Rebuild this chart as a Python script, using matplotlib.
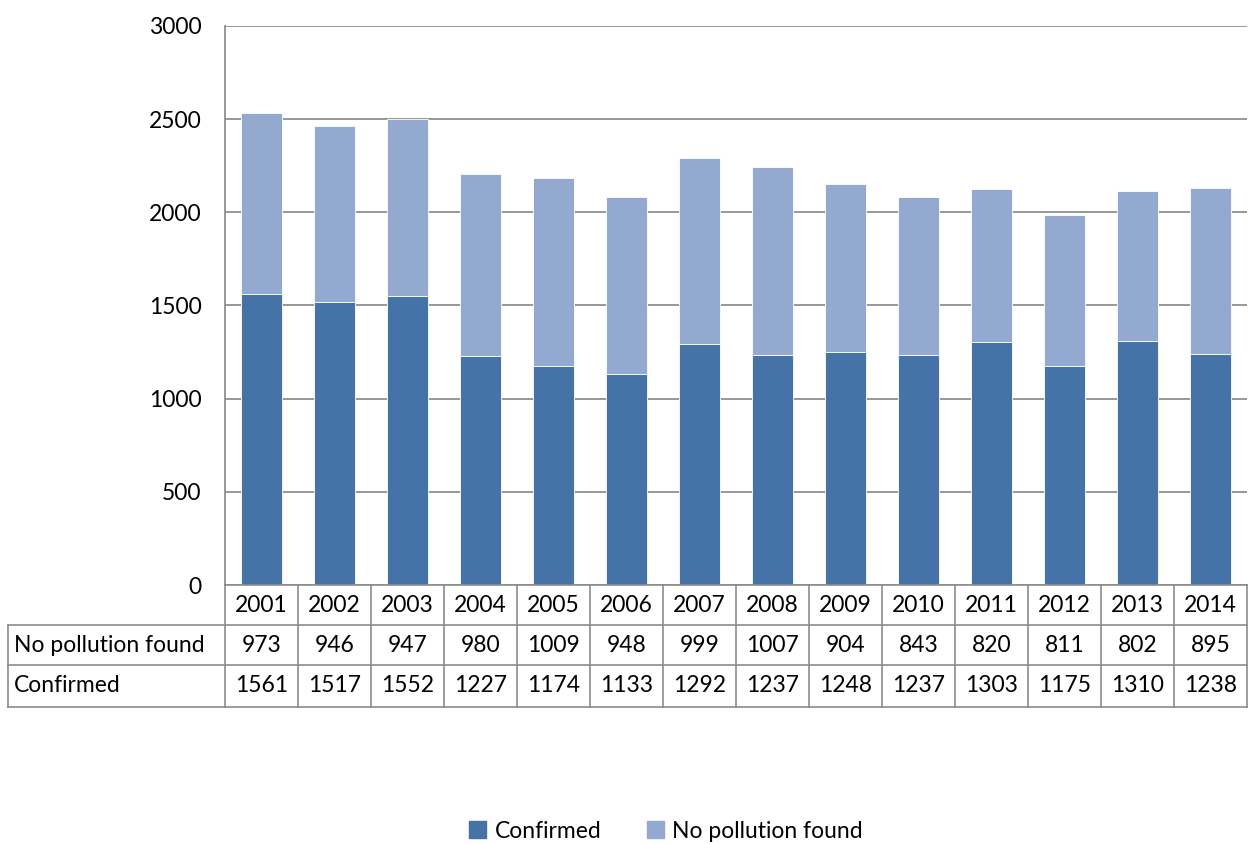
import matplotlib
matplotlib.use("Agg")
import matplotlib.pyplot as plt
import matplotlib.transforms as mtransforms
from matplotlib.patches import Patch
from matplotlib.lines import Line2D

years = ["2001","2002","2003","2004","2005","2006","2007","2008","2009","2010","2011","2012","2013","2014"]
confirmed = [1561,1517,1552,1227,1174,1133,1292,1237,1248,1237,1303,1175,1310,1238]
no_pollution = [973,946,947,980,1009,948,999,1007,904,843,820,811,802,895]
row_labels = ["No pollution found", "Confirmed"]
yticks = [0,500,1000,1500,2000,2500,3000]

c_conf = "#4572A7"
c_nopol = "#93A9CF"
grid_c = "#868686"
font = "Lato"
fs = 16.5

W, H = 1249, 844
fig = plt.figure(figsize=(W/100, H/100), dpi=100)
L, R, T, B = 225, 1247, 26, 585
ax = fig.add_axes([L/W, 1-B/H, (R-L)/W, (B-T)/H])

x = list(range(len(years)))
ax.bar(x, confirmed, width=0.56, color=c_conf, edgecolor="white", linewidth=0.6, zorder=3)
ax.bar(x, no_pollution, bottom=confirmed, width=0.56, color=c_nopol, edgecolor="white", linewidth=0.6, zorder=3)
ax.set_xlim(-0.5, len(years)-0.5)
ax.set_ylim(0, 3000)
ax.set_yticks(yticks)
ax.set_yticklabels([str(v) for v in yticks], fontsize=fs, fontname=font)
ax.tick_params(axis="y", length=0, pad=17)
ax.set_xticks([])
ax.yaxis.grid(True, color=grid_c, linewidth=1.2, zorder=0)
for s in ["top", "right", "bottom"]:
    ax.spines[s].set_visible(False)
ax.spines["left"].set_color(grid_c)
ax.spines["left"].set_linewidth(1.2)

# table
def fy(py):
    return 1 - py/H
def fx(px):
    return px/W
rows_y = [585, 625, 665, 707]
tc = "#8c8c8c"
lw = 1.2
fig.add_artist(Line2D([fx(L), fx(R)], [fy(585), fy(585)], color=tc, lw=lw))
for yy in rows_y[1:]:
    fig.add_artist(Line2D([fx(8), fx(R)], [fy(yy), fy(yy)], color=tc, lw=lw))
trans = mtransforms.blended_transform_factory(ax.transData, fig.transFigure)
for i in range(len(years)+1):
    fig.add_artist(Line2D([i-0.5, i-0.5], [fy(585), fy(707)], color=tc, lw=lw, transform=trans))
fig.add_artist(Line2D([fx(8), fx(8)], [fy(625), fy(707)], color=tc, lw=lw))

for i, yr in enumerate(years):
    fig.text(i, fy(605), yr, transform=trans, ha="center", va="center", fontsize=fs, fontname=font)
    fig.text(i, fy(645), str(no_pollution[i]), transform=trans, ha="center", va="center", fontsize=fs, fontname=font)
    fig.text(i, fy(686), str(confirmed[i]), transform=trans, ha="center", va="center", fontsize=fs, fontname=font)
fig.text(fx(14), fy(645), row_labels[0], ha="left", va="center", fontsize=fs, fontname=font)
fig.text(fx(14), fy(686), row_labels[1], ha="left", va="center", fontsize=fs, fontname=font)

handles = [Patch(color=c_conf, label="Confirmed"), Patch(color=c_nopol, label="No pollution found")]
fig.legend(handles=handles, loc="center", bbox_to_anchor=(fx(666), fy(831)), ncol=2, frameon=False,
           prop={"family": font, "size": fs}, handlelength=0.75, handleheight=0.75, handletextpad=0.35,
           columnspacing=2.0)

fig.savefig("out.png", dpi=100)
